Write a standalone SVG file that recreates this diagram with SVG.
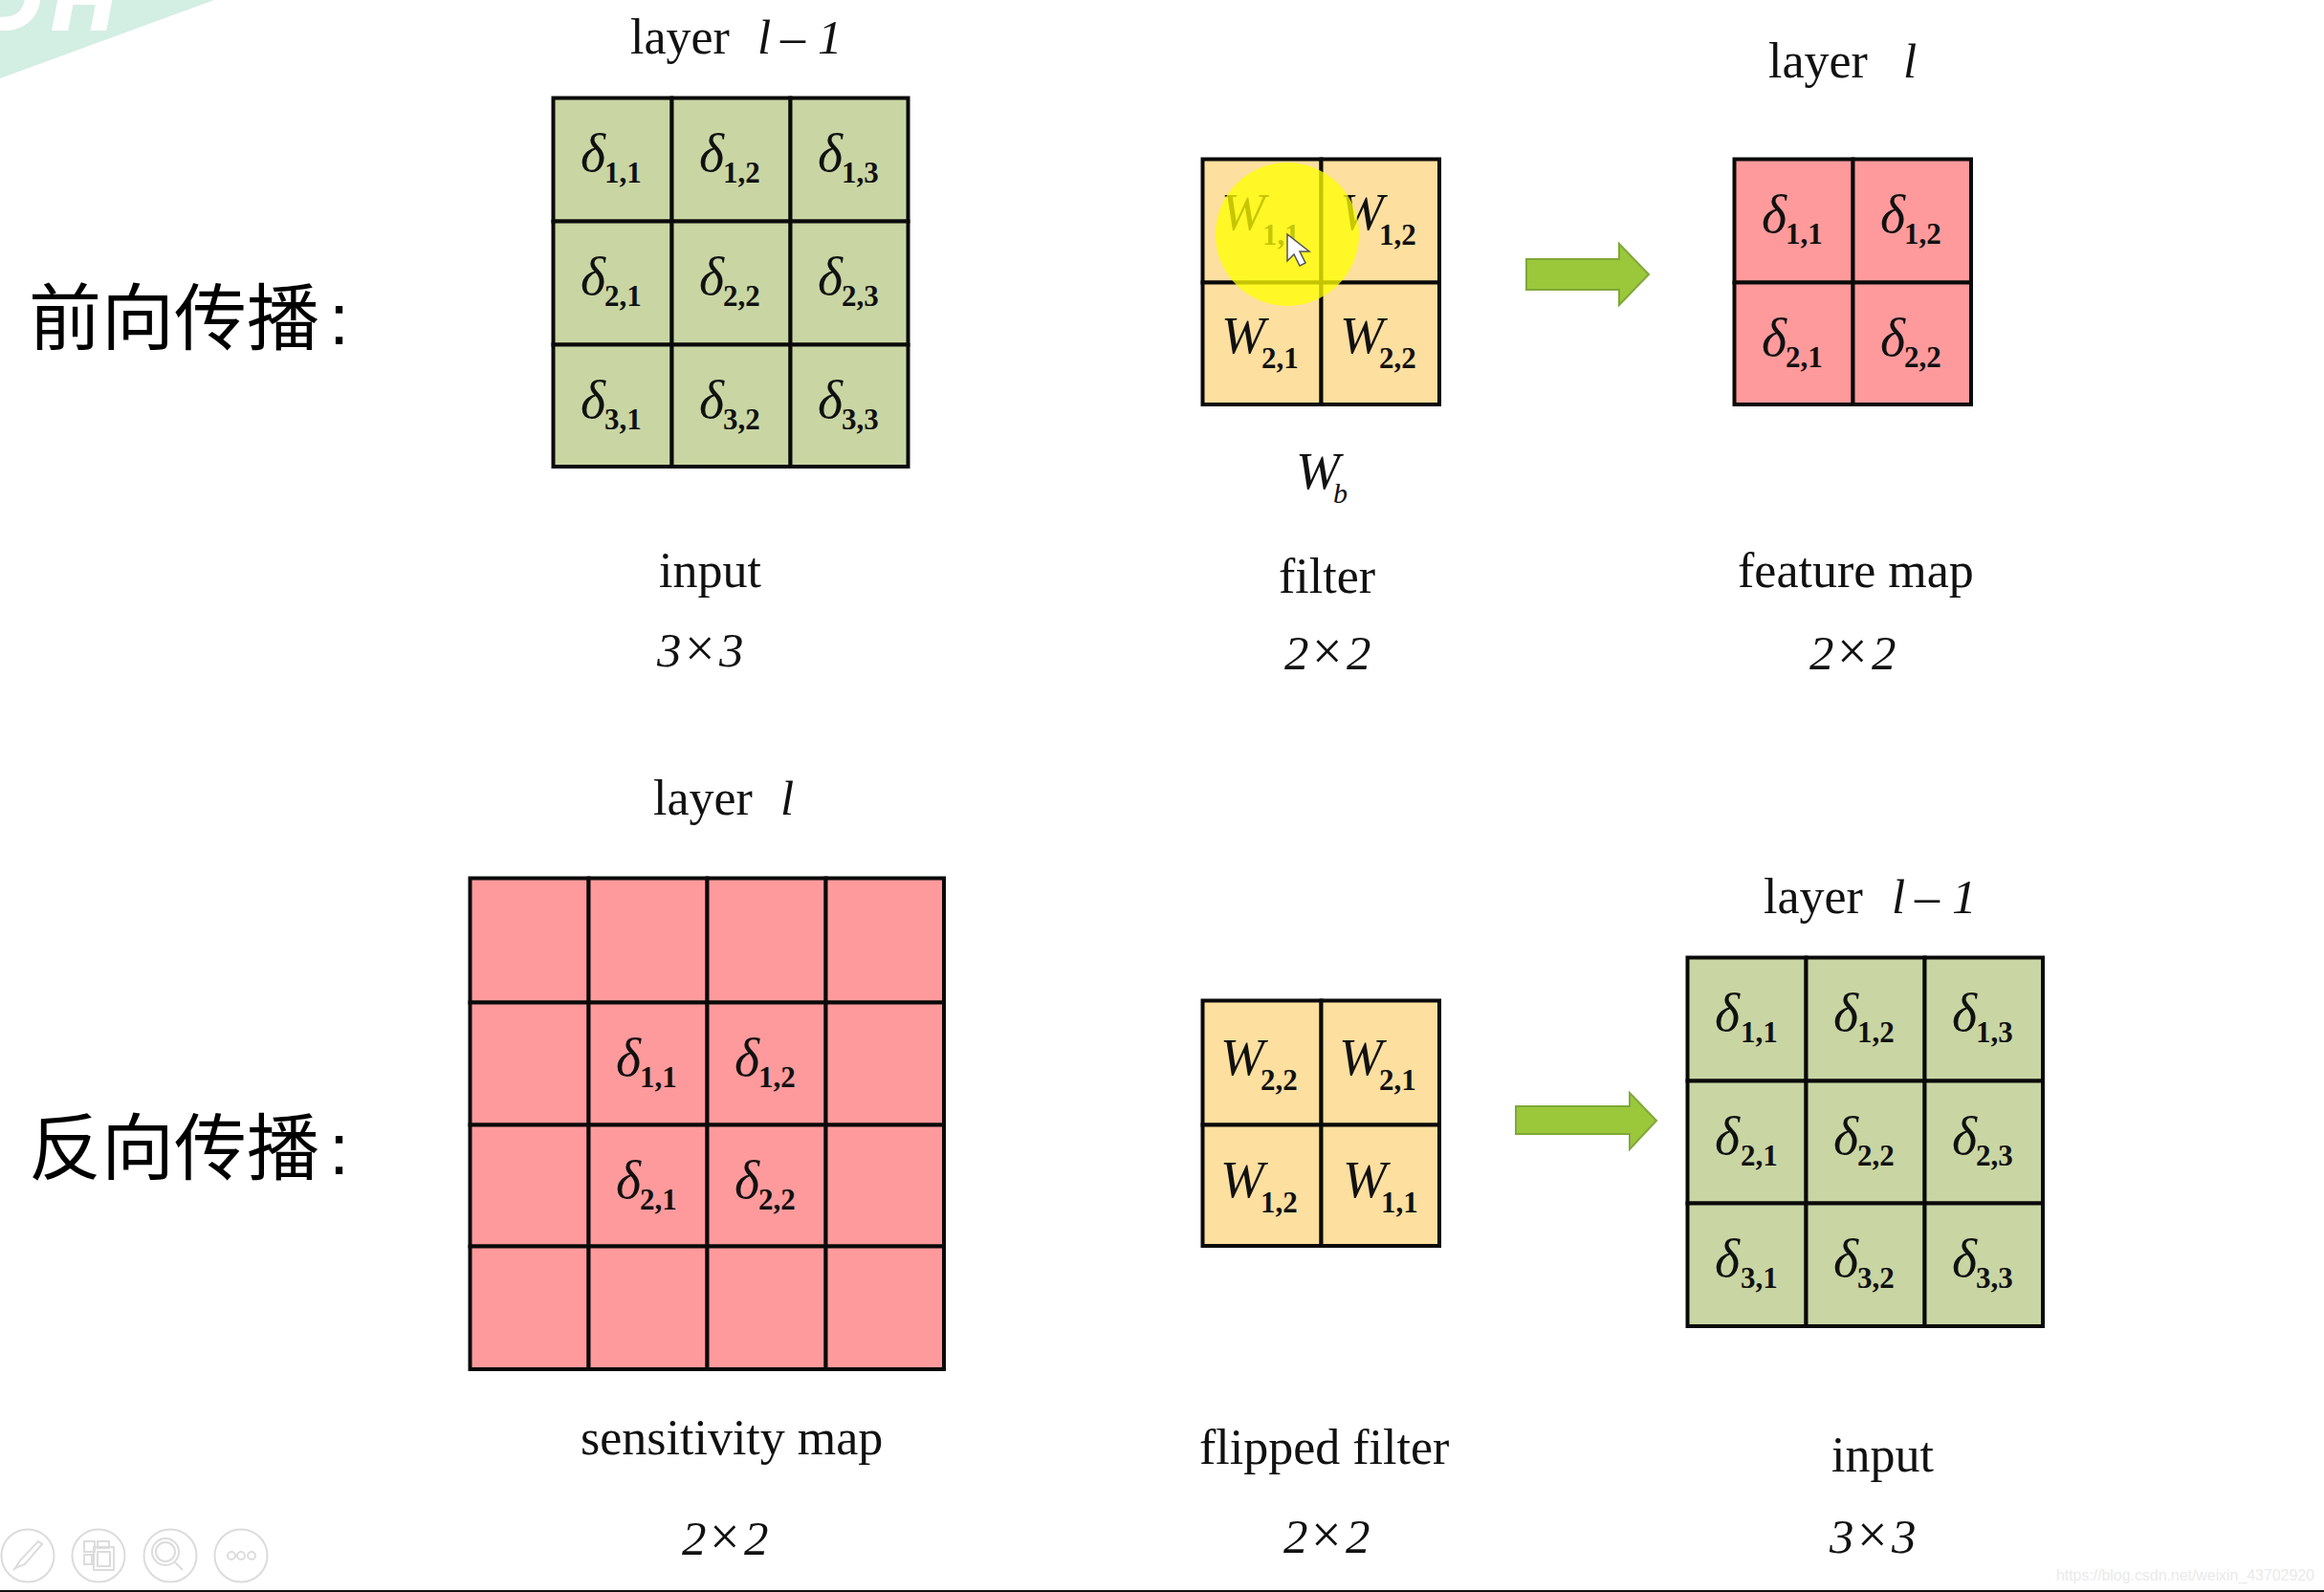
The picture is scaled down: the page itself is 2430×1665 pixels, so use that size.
<svg xmlns="http://www.w3.org/2000/svg" width="2430" height="1665" viewBox="0 0 2430 1665">
<style>
.c{stroke:#0a0a0a;stroke-width:4}
.g{fill:#c9d6a3}.y{fill:#fddf9f}.p{fill:#ff9a9c}
text{font-family:"Liberation Serif","Times New Roman",serif;fill:#111}
.l{font-size:52px}
.i{font-size:51px;font-style:italic}
.x{font-size:56px}
.d{font-size:56px;font-style:italic}
.w{font-size:55px;font-style:italic}
.s{font-size:31px;font-weight:bold;font-style:normal}
.zh{font-family:"Noto Sans CJK SC","Noto Sans",sans-serif;font-size:76px;fill:#000}
.co{font-family:"Liberation Sans",sans-serif}
.ic{fill:none;stroke:#dcdcdc;stroke-width:2}
.ar{fill:#9bc73a;stroke:#7fa83a;stroke-width:2}
</style>
<rect width="2430" height="1665" fill="#fff"/>
<g id="banner">
<polygon points="0,0 224,0 0,82" fill="#d3eee2"/>
<text x="-22" y="30" style="font-family:'Liberation Sans',sans-serif;font-size:90px;font-weight:bold;font-style:italic;letter-spacing:12px;fill:#fff;stroke:#fff;stroke-width:4">DH</text>
</g>
<text class="zh" x="30" y="360">前向传播<tspan class="co" x="344">:</tspan></text>
<text class="zh" x="30" y="1228">反向传播<tspan class="co" x="344">:</tspan></text>

<g id="input-top">
<rect class="c g" x="578.5" y="102.5" width="124" height="129"/><rect class="c g" x="702.5" y="102.5" width="124" height="129"/><rect class="c g" x="826.5" y="102.5" width="123" height="129"/>
<rect class="c g" x="578.5" y="231.5" width="124" height="129"/><rect class="c g" x="702.5" y="231.5" width="124" height="129"/><rect class="c g" x="826.5" y="231.5" width="123" height="129"/>
<rect class="c g" x="578.5" y="360.5" width="124" height="127.5"/><rect class="c g" x="702.5" y="360.5" width="124" height="127.5"/><rect class="c g" x="826.5" y="360.5" width="123" height="127.5"/>
<text class="d" x="607" y="179">δ<tspan class="s" x="632" y="191">1,1</tspan></text>
<text class="d" x="731" y="179">δ<tspan class="s" x="756" y="191">1,2</tspan></text>
<text class="d" x="855" y="179">δ<tspan class="s" x="880" y="191">1,3</tspan></text>
<text class="d" x="607" y="308">δ<tspan class="s" x="632" y="320">2,1</tspan></text>
<text class="d" x="731" y="308">δ<tspan class="s" x="756" y="320">2,2</tspan></text>
<text class="d" x="855" y="308">δ<tspan class="s" x="880" y="320">2,3</tspan></text>
<text class="d" x="607" y="437">δ<tspan class="s" x="632" y="449">3,1</tspan></text>
<text class="d" x="731" y="437">δ<tspan class="s" x="756" y="449">3,2</tspan></text>
<text class="d" x="855" y="437">δ<tspan class="s" x="880" y="449">3,3</tspan></text>
<text class="l" x="659" y="56">layer</text><text class="i" x="792" y="56">l</text><text class="l" x="816" y="56">–</text><text class="i" x="855" y="56">1</text>
<text class="l" x="689" y="614">input</text>
<text class="i" x="687" y="697">3</text><text class="x" x="716" y="697">×</text><text class="i" x="752" y="697">3</text>
</g>

<g id="filter">
<rect class="c y" x="1257.5" y="166.5" width="124" height="129"/><rect class="c y" x="1381.5" y="166.5" width="123.5" height="129"/>
<rect class="c y" x="1257.5" y="295.5" width="124" height="127.5"/><rect class="c y" x="1381.5" y="295.5" width="123.5" height="127.5"/>
<text class="w" x="1277" y="240">W<tspan class="s" x="1320" y="256">1,1</tspan></text>
<text class="w" x="1401" y="240">W<tspan class="s" x="1442" y="256">1,2</tspan></text>
<text class="w" x="1277" y="369">W<tspan class="s" x="1319" y="385">2,1</tspan></text>
<text class="w" x="1401" y="369">W<tspan class="s" x="1442" y="385">2,2</tspan></text>
<text class="w" x="1355" y="511">W<tspan x="1394" y="526" style="font-size:30px">b</tspan></text>
<text class="l" x="1337" y="620">filter</text>
<text class="i" x="1343" y="700">2</text><text class="x" x="1372" y="700">×</text><text class="i" x="1408" y="700">2</text>
<circle cx="1346" cy="245" r="75" fill="#ffff00" fill-opacity=".76"/>
<path d="M1346,245 L1346,273 L1353,266 L1359,278 L1365,275 L1359,263 L1369,263 Z" fill="#fff" stroke="#555" stroke-width="1.5"/>
</g>

<g id="feature-map">
<rect class="c p" x="1813.5" y="166.5" width="124" height="129"/><rect class="c p" x="1937.5" y="166.5" width="123.5" height="129"/>
<rect class="c p" x="1813.5" y="295.5" width="124" height="127.5"/><rect class="c p" x="1937.5" y="295.5" width="123.5" height="127.5"/>
<text class="d" x="1842" y="243">δ<tspan class="s" x="1867" y="255">1,1</tspan></text>
<text class="d" x="1966" y="243">δ<tspan class="s" x="1991" y="255">1,2</tspan></text>
<text class="d" x="1842" y="372">δ<tspan class="s" x="1867" y="384">2,1</tspan></text>
<text class="d" x="1966" y="372">δ<tspan class="s" x="1991" y="384">2,2</tspan></text>
<text class="l" x="1849" y="81">layer</text><text class="i" x="1990" y="81">l</text>
<text class="l" x="1817" y="614">feature map</text>
<text class="i" x="1892" y="700">2</text><text class="x" x="1921" y="700">×</text><text class="i" x="1957" y="700">2</text>
</g>

<g id="sensitivity-map">
<rect class="c p" x="491.5" y="918.5" width="124" height="130"/><rect class="c p" x="615.5" y="918.5" width="124" height="130"/><rect class="c p" x="739.5" y="918.5" width="124" height="130"/><rect class="c p" x="863.5" y="918.5" width="123.5" height="130"/>
<rect class="c p" x="491.5" y="1048.5" width="124" height="128"/><rect class="c p" x="615.5" y="1048.5" width="124" height="128"/><rect class="c p" x="739.5" y="1048.5" width="124" height="128"/><rect class="c p" x="863.5" y="1048.5" width="123.5" height="128"/>
<rect class="c p" x="491.5" y="1176.5" width="124" height="127"/><rect class="c p" x="615.5" y="1176.5" width="124" height="127"/><rect class="c p" x="739.5" y="1176.5" width="124" height="127"/><rect class="c p" x="863.5" y="1176.5" width="123.5" height="127"/>
<rect class="c p" x="491.5" y="1303.5" width="124" height="128.5"/><rect class="c p" x="615.5" y="1303.5" width="124" height="128.5"/><rect class="c p" x="739.5" y="1303.5" width="124" height="128.5"/><rect class="c p" x="863.5" y="1303.5" width="123.5" height="128.5"/>
<text class="d" x="644" y="1125">δ<tspan class="s" x="669" y="1137">1,1</tspan></text>
<text class="d" x="768" y="1125">δ<tspan class="s" x="793" y="1137">1,2</tspan></text>
<text class="d" x="644" y="1253">δ<tspan class="s" x="669" y="1265">2,1</tspan></text>
<text class="d" x="768" y="1253">δ<tspan class="s" x="793" y="1265">2,2</tspan></text>
<text class="l" x="683" y="852">layer</text><text class="i" x="816" y="852">l</text>
<text class="l" x="607" y="1521">sensitivity map</text>
<text class="i" x="713" y="1626">2</text><text class="x" x="742" y="1626">×</text><text class="i" x="778" y="1626">2</text>
</g>

<g id="flipped-filter">
<rect class="c y" x="1257.5" y="1046.5" width="124" height="130"/><rect class="c y" x="1381.5" y="1046.5" width="123.5" height="130"/>
<rect class="c y" x="1257.5" y="1176.5" width="124" height="126.5"/><rect class="c y" x="1381.5" y="1176.5" width="123.5" height="126.5"/>
<text class="w" x="1276" y="1124">W<tspan class="s" x="1318" y="1140">2,2</tspan></text>
<text class="w" x="1400" y="1124">W<tspan class="s" x="1442" y="1140">2,1</tspan></text>
<text class="w" x="1276" y="1252">W<tspan class="s" x="1318" y="1268">1,2</tspan></text>
<text class="w" x="1404" y="1252">W<tspan class="s" x="1444" y="1268">1,1</tspan></text>
<text class="l" x="1254" y="1531">flipped filter</text>
<text class="i" x="1342" y="1624">2</text><text class="x" x="1371" y="1624">×</text><text class="i" x="1407" y="1624">2</text>
</g>

<g id="input-bottom">
<rect class="c g" x="1764.5" y="1001.5" width="124" height="129"/><rect class="c g" x="1888.5" y="1001.5" width="124" height="129"/><rect class="c g" x="2012.5" y="1001.5" width="123.5" height="129"/>
<rect class="c g" x="1764.5" y="1130.5" width="124" height="128"/><rect class="c g" x="1888.5" y="1130.5" width="124" height="128"/><rect class="c g" x="2012.5" y="1130.5" width="123.5" height="128"/>
<rect class="c g" x="1764.5" y="1258.5" width="124" height="128.5"/><rect class="c g" x="1888.5" y="1258.5" width="124" height="128.5"/><rect class="c g" x="2012.5" y="1258.5" width="123.5" height="128.5"/>
<text class="d" x="1793" y="1078">δ<tspan class="s" x="1820" y="1090">1,1</tspan></text>
<text class="d" x="1917" y="1078">δ<tspan class="s" x="1942" y="1090">1,2</tspan></text>
<text class="d" x="2041" y="1078">δ<tspan class="s" x="2066" y="1090">1,3</tspan></text>
<text class="d" x="1793" y="1207">δ<tspan class="s" x="1820" y="1219">2,1</tspan></text>
<text class="d" x="1917" y="1207">δ<tspan class="s" x="1942" y="1219">2,2</tspan></text>
<text class="d" x="2041" y="1207">δ<tspan class="s" x="2066" y="1219">2,3</tspan></text>
<text class="d" x="1793" y="1335">δ<tspan class="s" x="1820" y="1347">3,1</tspan></text>
<text class="d" x="1917" y="1335">δ<tspan class="s" x="1942" y="1347">3,2</tspan></text>
<text class="d" x="2041" y="1335">δ<tspan class="s" x="2066" y="1347">3,3</tspan></text>
<text class="l" x="1844" y="955">layer</text><text class="i" x="1978" y="955">l</text><text class="l" x="2002" y="955">–</text><text class="i" x="2041" y="955">1</text>
<text class="l" x="1915" y="1539">input</text>
<text class="i" x="1913" y="1624">3</text><text class="x" x="1942" y="1624">×</text><text class="i" x="1978" y="1624">3</text>
</g>

<g id="connectors">
<polygon class="ar" points="1596,271 1693,271 1693,255 1724,287 1693,319 1693,303 1596,303"/>
<polygon class="ar" points="1585,1157 1704,1157 1704,1143 1732,1172 1704,1202 1704,1186 1585,1186"/>
</g>

<g id="toolbar">
<circle class="ic" cx="29" cy="1627" r="27.5"/>
<path class="ic" d="M16,1640 L21,1632 L40,1612 L44,1615 L26,1636 Z M16,1640 L14,1642"/>
<circle class="ic" cx="103" cy="1627" r="27.5"/>
<path class="ic" d="M88,1612h11v11h-11z M102,1612h12v7h-12z M88,1626h8v10h-8z M98,1618h21v24h-21z M102,1623h13v15h-13z"/>
<circle class="ic" cx="178" cy="1627" r="27.5"/>
<circle class="ic" cx="173" cy="1623" r="14"/><circle class="ic" cx="173" cy="1623" r="10"/>
<path class="ic" d="M183,1634 L191,1642" stroke-width="4"/>
<circle class="ic" cx="252" cy="1627" r="27.5"/>
<circle class="ic" cx="242" cy="1627" r="4"/><circle class="ic" cx="252" cy="1627" r="4"/><circle class="ic" cx="263" cy="1627" r="4"/>
</g>
<text x="2150" y="1653" textLength="270" style="font-family:'Liberation Sans',sans-serif;font-size:16px;fill:#eaeaea">https://blog.csdn.net/weixin_43702920</text>
<rect x="0" y="1663" width="2430" height="2" fill="#111"/>
</svg>
